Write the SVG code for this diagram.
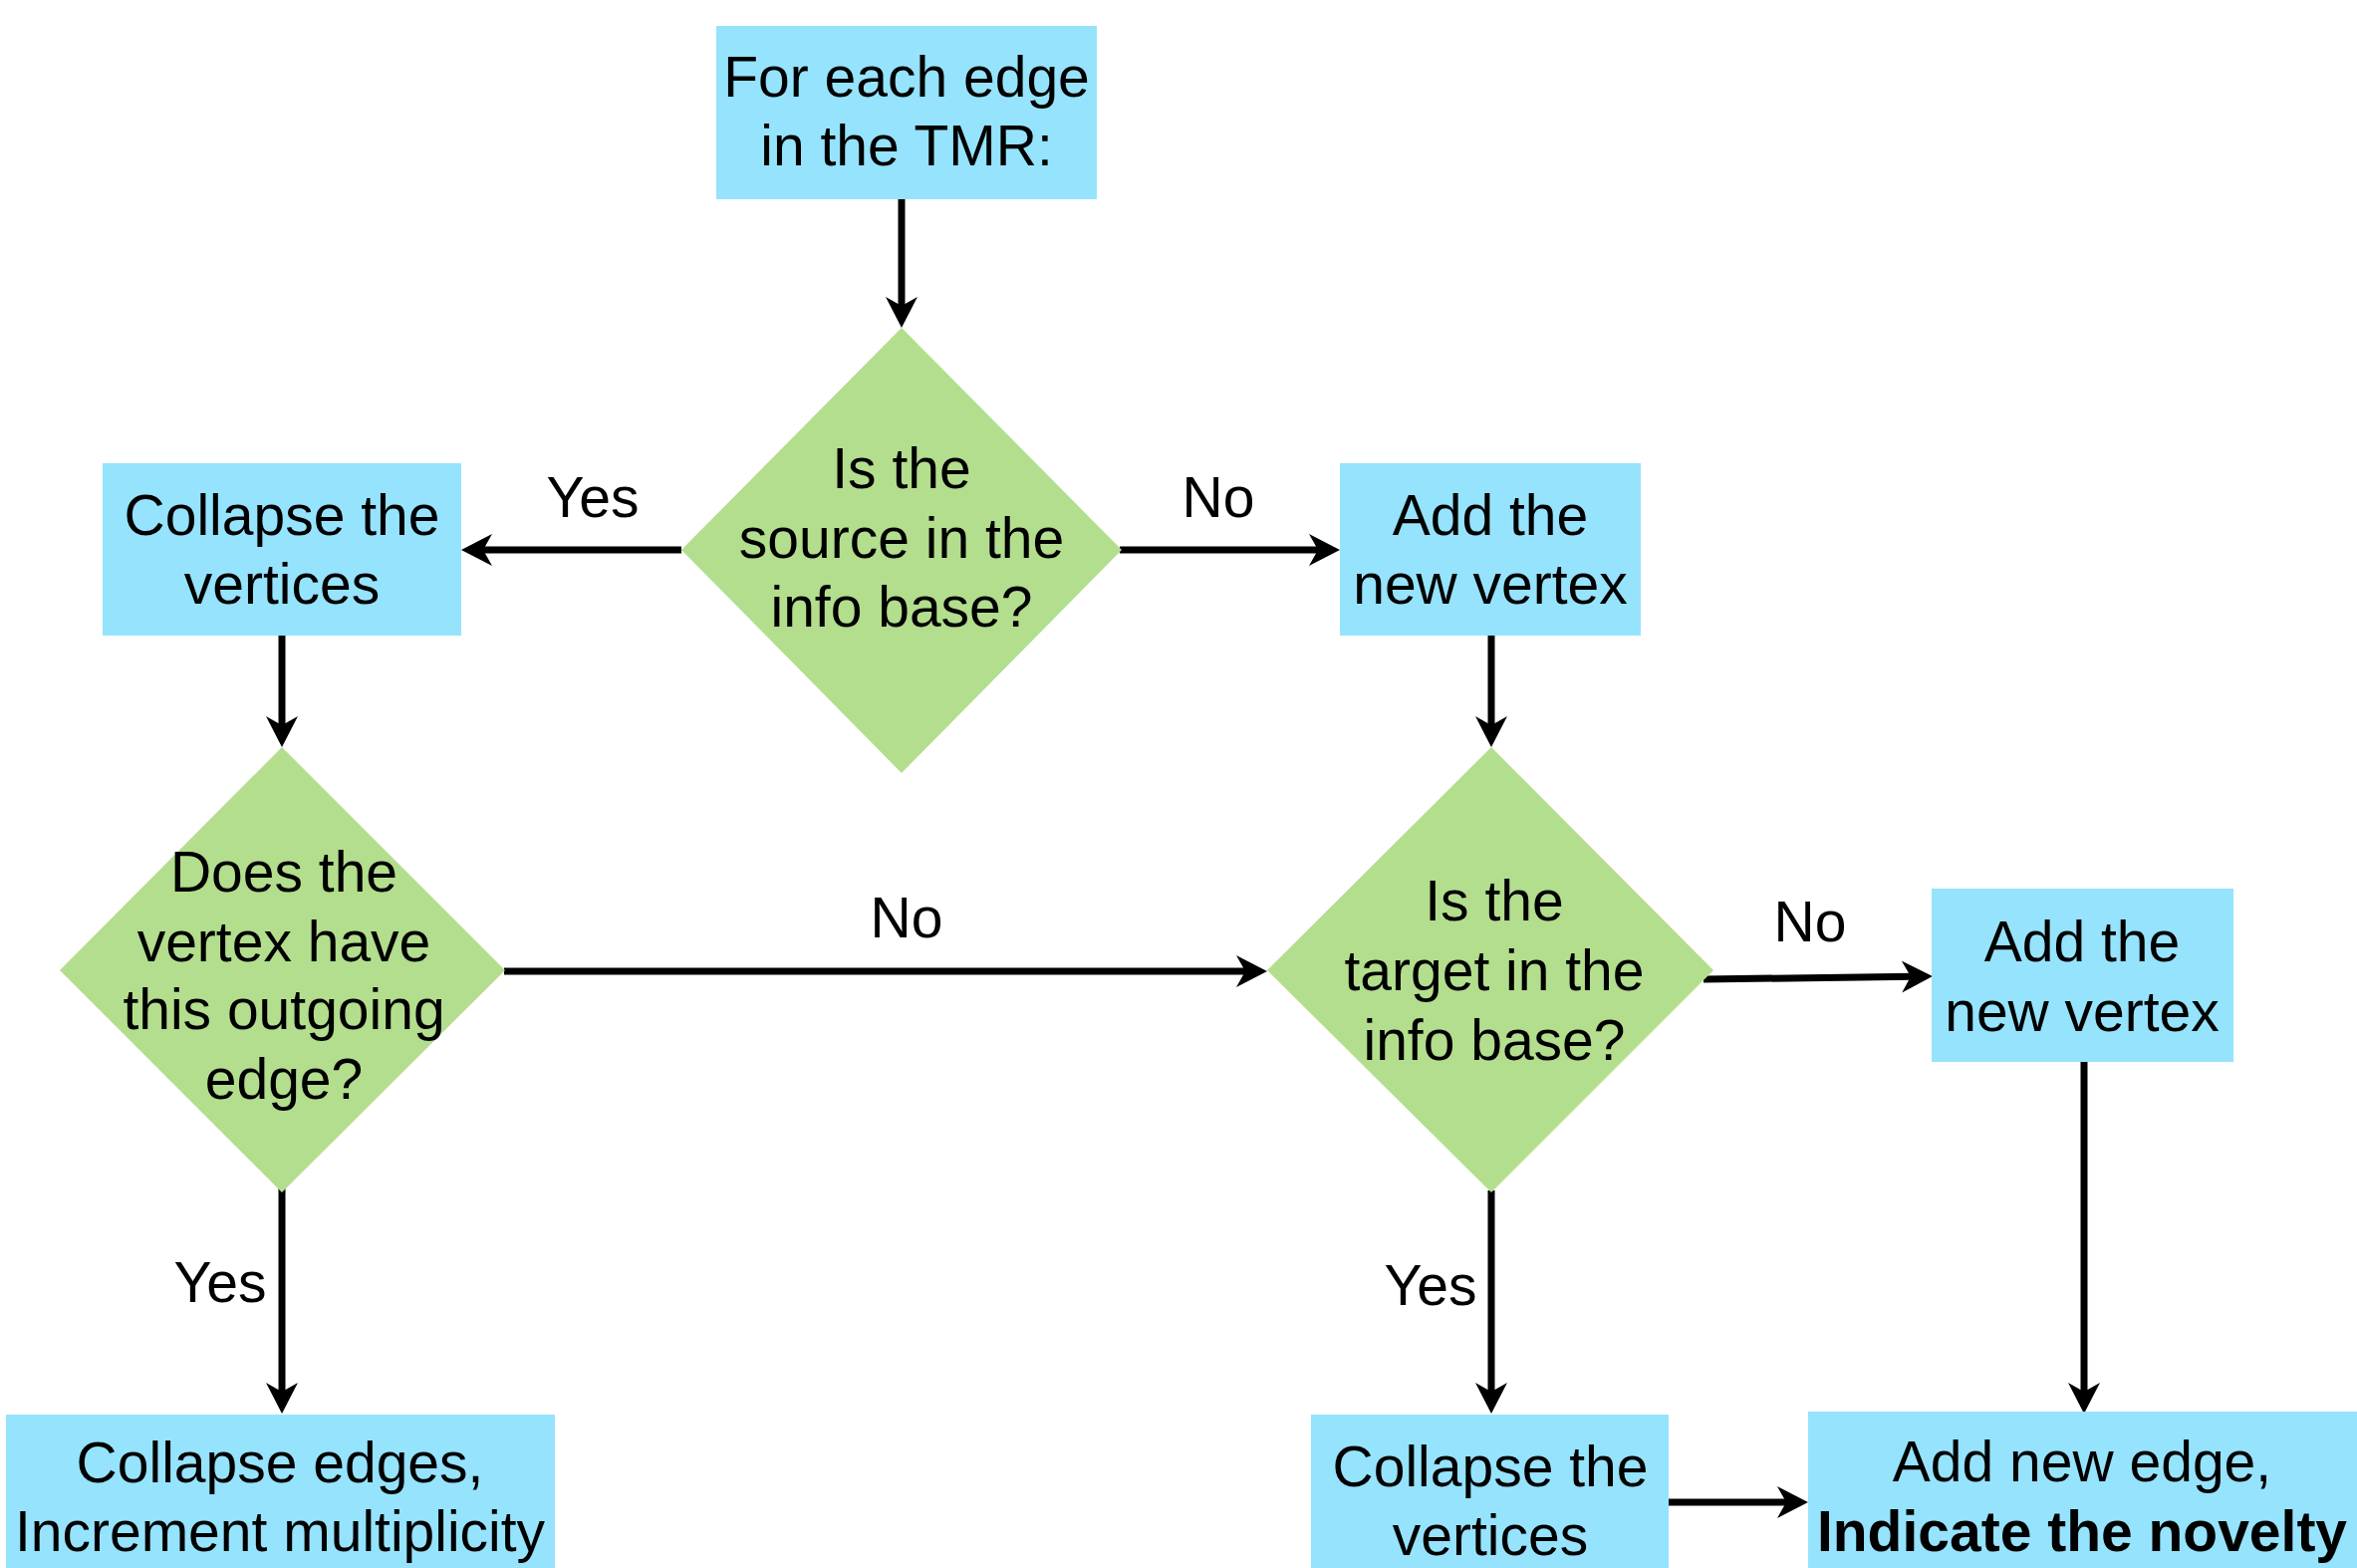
<svg xmlns="http://www.w3.org/2000/svg" width="2366" height="1574" viewBox="0 0 2366 1574">
<defs>
<style>
.box{fill:#96E3FD;}
.dia{fill:#B3DE8D;}
text{font-family:"Liberation Sans",Arial,Helvetica,sans-serif;font-size:57px;fill:#000;text-anchor:middle;}
.b{font-weight:bold;}
.c{stroke:#000;stroke-width:7;fill:none;marker-end:url(#ah);}
</style>
<marker id="ah" markerUnits="userSpaceOnUse" viewBox="-15 -20 40 40" markerWidth="40" markerHeight="40" refX="0" refY="0" orient="auto">
<path d="M20,0 L-11,-16 L-2,0 L-11,16 Z" fill="#000"/>
</marker>
</defs>
<rect width="2366" height="1574" fill="#fff"/>

<g id="connectors">
<line class="c" x1="905" y1="199" x2="905" y2="309"/>
<line class="c" x1="684" y1="552" x2="483" y2="552"/>
<line class="c" x1="1124" y1="552" x2="1325" y2="552"/>
<line class="c" x1="283" y1="638" x2="283" y2="730"/>
<line class="c" x1="1497" y1="638" x2="1497" y2="730"/>
<line class="c" x1="506" y1="975" x2="1252" y2="975"/>
<line class="c" x1="1710" y1="983" x2="1920" y2="980.3"/>
<line class="c" x1="283" y1="1193" x2="283" y2="1399"/>
<line class="c" x1="1497" y1="1195" x2="1497" y2="1399"/>
<line class="c" x1="2092" y1="1062" x2="2092" y2="1399"/>
<line class="c" x1="1675" y1="1508" x2="1795" y2="1508"/>
<text x="595" y="519">Yes</text>
<text x="1223" y="519">No</text>
<text x="910" y="941">No</text>
<text x="221" y="1307">Yes</text>
<text x="1817" y="945">No</text>
<text x="1436" y="1310">Yes</text>
</g>

<g id="start">
<rect class="box" x="719" y="26" width="382" height="174"/>
<text x="910" y="97">For each edge</text>
<text x="910" y="166">in the TMR:</text>
</g>

<g id="source-check">
<polygon class="dia" points="905,329 1126,552 905,776 684,552"/>
<text x="905" y="490">Is the</text>
<text x="905" y="560">source in the</text>
<text x="905" y="629">info base?</text>
</g>

<g id="collapse-source">
<rect class="box" x="103" y="465" width="360" height="173"/>
<text x="283" y="537">Collapse the</text>
<text x="283" y="606">vertices</text>
</g>

<g id="add-source">
<rect class="box" x="1345" y="465" width="302" height="173"/>
<text x="1496" y="537">Add the</text>
<text x="1496" y="606">new vertex</text>
</g>

<g id="edge-check">
<polygon class="dia" points="283,750 507,974 283,1197 60,974"/>
<text x="285" y="895">Does the</text>
<text x="285" y="965">vertex have</text>
<text x="285" y="1033">this outgoing</text>
<text x="285" y="1103">edge?</text>
</g>

<g id="target-check">
<polygon class="dia" points="1497,750 1720,974 1497,1197 1272,974"/>
<text x="1500" y="924">Is the</text>
<text x="1500" y="994">target in the</text>
<text x="1500" y="1064">info base?</text>
</g>

<g id="add-target">
<rect class="box" x="1939" y="892" width="303" height="174"/>
<text x="2090" y="965">Add the</text>
<text x="2090" y="1035">new vertex</text>
</g>

<g id="collapse-edges">
<rect class="box" x="6" y="1420" width="551" height="160"/>
<text x="281" y="1488">Collapse edges,</text>
<text x="281" y="1557">Increment multiplicity</text>
</g>

<g id="collapse-target">
<rect class="box" x="1316" y="1420" width="359" height="160"/>
<text x="1496" y="1492">Collapse the</text>
<text x="1496" y="1561">vertices</text>
</g>

<g id="add-edge">
<rect class="box" x="1815" y="1417" width="560" height="163"/>
<text x="2090" y="1487">Add new edge,</text>
<text class="b" x="2090" y="1557">Indicate the novelty</text>
</g>
</svg>
